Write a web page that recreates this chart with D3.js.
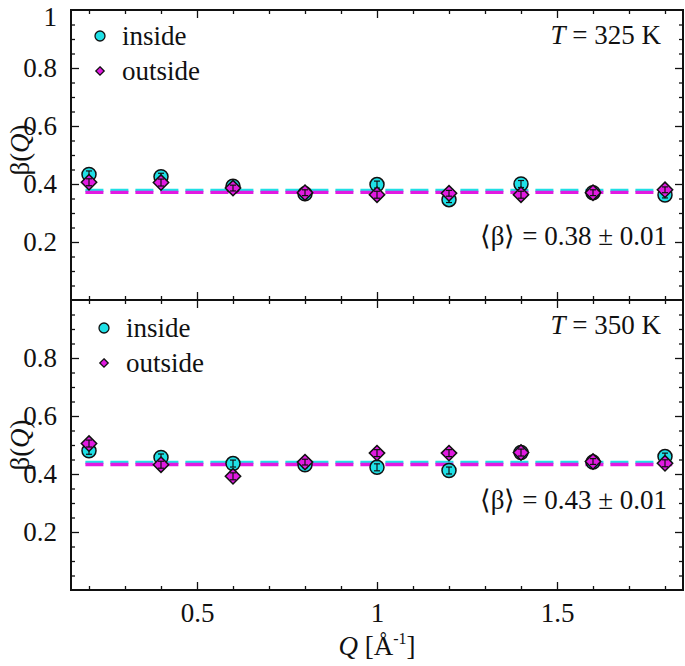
<!DOCTYPE html>
<html><head><meta charset="utf-8">
<script src="https://cdn.jsdelivr.net/npm/d3@7/dist/d3.min.js"></script>
<style>body{margin:0;background:#fff}svg{display:block}text{font-family:"Liberation Serif","Times New Roman",serif;fill:#111}</style>
</head><body><svg id="c" width="685" height="666"></svg>
<script>
// ---- data ----
const Q = [0.2, 0.4, 0.6, 0.8, 1.0, 1.2, 1.4, 1.6, 1.8];
const inside325  = [0.433, 0.425, 0.392, 0.366, 0.398, 0.346, 0.400, 0.370, 0.362];
const outside325 = [0.406, 0.405, 0.386, 0.370, 0.363, 0.368, 0.363, 0.370, 0.380];
const inside350  = [0.480, 0.457, 0.436, 0.432, 0.423, 0.412, 0.474, 0.441, 0.460];
const outside350 = [0.505, 0.432, 0.392, 0.441, 0.472, 0.472, 0.474, 0.443, 0.437];
const err325 = [0.012, 0.012, 0.010, 0.010, 0.012, 0.010, 0.012, 0.010, 0.010];
const err350 = [0.012, 0.012, 0.012, 0.010, 0.012, 0.012, 0.012, 0.010, 0.012];
const meanInside  = [0.378, 0.440];
const meanOutside = [0.371, 0.433];
const fitRange = [0.19, 1.82];
const panelTitles = ["325", "350"];
const meanLabels = ["0.38 \u00b1 0.01", "0.43 \u00b1 0.01"];
const yTickLabels = [[0.2, 0.4, 0.6, 0.8, 1], [0.2, 0.4, 0.6, 0.8]];
const xTickLabels = [0.5, 1, 1.5];
const legendLabels = ["inside", "outside"];

// ---- layout ----
const svg = d3.select("#c");
const L = 71, R = 683;
const panels = [{top: 10, bot: 300}, {top: 300, bot: 590}];
const x = d3.scaleLinear().domain([0.15, 1.85]).range([L, R]);
const cyan = "#1fe0e6", mag = "#e21ae2";
const fs = 27;

const data = [
  {ins: inside325, out: outside325, err: err325},
  {ins: inside350, out: outside350, err: err350}
];

const xMinor = d3.range(0.2, 1.85, 0.1).map(v => +v.toFixed(2));
const yMinor = d3.range(0.05, 1.0, 0.05).map(v => +v.toFixed(2));

panels.forEach((p, i) => {
  const y = d3.scaleLinear().domain([0, 1]).range([p.bot, p.top]);
  const g = svg.append("g");
  const tickStyle = s => s.call(a => a.select(".domain").remove())
    .selectAll("line").attr("stroke", "#111").attr("stroke-width", 1.3);

  const xMaj = xTickLabels;
  [["bottom", p.bot, d3.axisBottom], ["top", p.top, d3.axisTop]].forEach(([side, yy, ax]) => {
    g.append("g").attr("transform", `translate(0,${yy})`)
      .call(ax(x).tickValues(xMinor.filter(v => !xMaj.some(m => Math.abs(m - v) < 1e-6))).tickSize(-4).tickFormat(""))
      .call(tickStyle);
    const gm = g.append("g").attr("transform", `translate(0,${yy})`)
      .call(ax(x).tickValues(xMaj).tickSize(-8).tickPadding(13)
        .tickFormat(i === 1 && side === "bottom" ? d3.format("") : ""));
    gm.call(tickStyle);
    gm.selectAll("text").attr("font-size", fs).attr("fill", "#111")
      .attr("font-family", "Liberation Serif");
  });

  const yMajAll = [0.2, 0.4, 0.6, 0.8];
  [["left", L, d3.axisLeft], ["right", R, d3.axisRight]].forEach(([side, xx, ax]) => {
    g.append("g").attr("transform", `translate(${xx},0)`)
      .call(ax(y).tickValues(yMinor.filter(v => !yMajAll.some(m => Math.abs(m - v) < 1e-6))).tickSize(-4).tickFormat(""))
      .call(tickStyle);
    const gm = g.append("g").attr("transform", `translate(${xx},0)`)
      .call(ax(y).tickValues(side === "left" ? yTickLabels[i] : yMajAll).tickSize(-8).tickPadding(14)
        .tickFormat(side === "left" ? d3.format("") : ""));
    gm.call(tickStyle);
    gm.selectAll("text").attr("font-size", fs).attr("fill", "#111")
      .attr("font-family", "Liberation Serif");
    if (side === "left") {
      const t1 = gm.selectAll(".tick").filter(d => d === 1);
      t1.selectAll("line").remove();
      t1.selectAll("text").attr("dy", "0.56em");
    }
  });

  g.append("rect").attr("x", L).attr("y", p.top).attr("width", R - L).attr("height", p.bot - p.top)
    .attr("fill", "none").attr("stroke", "#111").attr("stroke-width", 2);

  const line = d3.line().x(d => x(d[0])).y(d => y(d[1]));
  g.append("path").datum(fitRange.map(q => [q, meanInside[i]])).attr("d", line)
    .attr("stroke", cyan).attr("stroke-width", 3.4).attr("stroke-dasharray", "18,7").attr("fill", "none");
  g.append("path").datum(fitRange.map(q => [q, meanOutside[i]])).attr("d", line)
    .attr("stroke", mag).attr("stroke-width", 3.4).attr("stroke-dasharray", "18,7").attr("fill", "none");

  const d = data[i];
  const errbars = (vals) => {
    const eg = g.append("g").attr("stroke", "#111").attr("stroke-width", 1.2);
    Q.forEach((q, k) => {
      const cx = x(q), y1 = y(vals[k] - d.err[k]), y2 = y(vals[k] + d.err[k]);
      eg.append("line").attr("x1", cx).attr("x2", cx).attr("y1", y1).attr("y2", y2);
      eg.append("line").attr("x1", cx - 3).attr("x2", cx + 3).attr("y1", y1).attr("y2", y1);
      eg.append("line").attr("x1", cx - 3).attr("x2", cx + 3).attr("y1", y2).attr("y2", y2);
    });
  };
  g.append("g").selectAll("circle").data(Q).join("circle")
    .attr("cx", q => x(q)).attr("cy", (q, k) => y(d.ins[k])).attr("r", 7)
    .attr("fill", cyan).attr("stroke", "#111").attr("stroke-width", 1.5);
  errbars(d.ins);
  const dia = d3.symbol().type(d3.symbolDiamond2).size(150);
  g.append("g").selectAll("path").data(Q).join("path")
    .attr("transform", (q, k) => `translate(${x(q)},${y(d.out[k])})`).attr("d", dia)
    .attr("fill", mag).attr("stroke", "#111").attr("stroke-width", 1.5);
  errbars(d.out);

  const lx = i === 0 ? 100 : 104, ly = i === 0 ? 36 : 328, dy = 35, tx = lx + 22;
  g.append("circle").attr("cx", lx).attr("cy", ly).attr("r", 5).attr("fill", cyan).attr("stroke", "#111").attr("stroke-width", 1.3);
  g.append("path").attr("transform", `translate(${lx},${ly + dy})`).attr("d", d3.symbol().type(d3.symbolDiamond2).size(45))
    .attr("fill", mag).attr("stroke", "#111").attr("stroke-width", 1.3);
  g.append("text").attr("x", tx).attr("y", ly + 9).attr("font-size", fs).text(legendLabels[0]);
  g.append("text").attr("x", tx).attr("y", ly + dy + 9).attr("font-size", fs).text(legendLabels[1]);

  const t = g.append("text").attr("x", 661).attr("y", p.top + 34).attr("font-size", fs).attr("text-anchor", "end");
  t.append("tspan").attr("font-style", "italic").text("T");
  t.append("tspan").text(" = " + panelTitles[i] + " K");

  g.append("text").attr("x", 667).attr("y", i === 0 ? 245 : 509).attr("font-size", fs).attr("text-anchor", "end")
    .text("\u27e8\u03b2\u27e9 = " + meanLabels[i]);

  const yl = g.append("text").attr("transform", `translate(29,${(p.top + p.bot) / 2 - (i === 0 ? 5 : 0)}) rotate(-90)`)
    .attr("text-anchor", "middle").attr("font-size", fs);
  yl.append("tspan").text("\u03b2(");
  yl.append("tspan").attr("font-style", "italic").text("Q");
  yl.append("tspan").text(")");
});

const xl = svg.append("text").attr("x", (L + R) / 2).attr("y", 655).attr("text-anchor", "middle").attr("font-size", fs);
xl.append("tspan").attr("font-style", "italic").text("Q");
xl.append("tspan").text(" [\u00c5");
xl.append("tspan").attr("font-size", 16).attr("dy", -11).text("-1");
xl.append("tspan").attr("dy", 11).text("]");
</script></body></html>
